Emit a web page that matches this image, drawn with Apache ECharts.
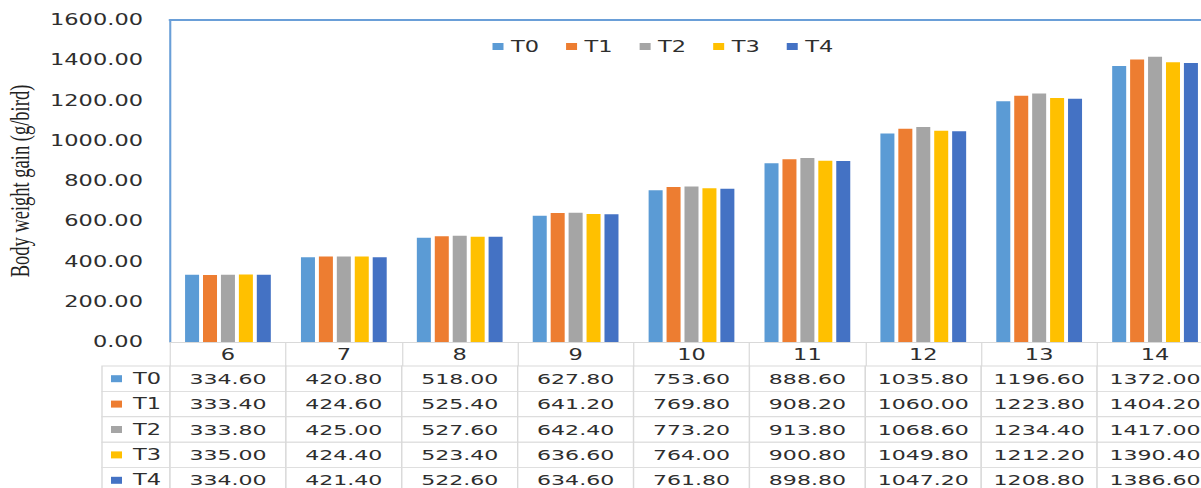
<!DOCTYPE html>
<html>
<head>
<meta charset="utf-8">
<script src="https://cdn.jsdelivr.net/npm/echarts@6/dist/echarts.min.js"></script>
<style>
html,body{margin:0;padding:0;background:#fff;overflow:hidden;width:1201px;height:488px;}
#chart{width:801px;height:488px;transform:scaleX(1.5);transform-origin:0 0;}
</style>
</head>
<body>
<div id="chart"></div>
<script>
const categories = ['6','7','8','9','10','11','12','13','14'];
const seriesNames = ['T0','T1','T2','T3','T4'];
const T0 = [334.60, 420.80, 518.00, 627.80, 753.60, 888.60, 1035.80, 1196.60, 1372.00];
const T1 = [333.40, 424.60, 525.40, 641.20, 769.80, 908.20, 1060.00, 1223.80, 1404.20];
const T2 = [333.80, 425.00, 527.60, 642.40, 773.20, 913.80, 1068.60, 1234.40, 1417.00];
const T3 = [335.00, 424.40, 523.40, 636.60, 764.00, 900.80, 1049.80, 1212.20, 1390.40];
const T4 = [334.00, 421.40, 522.60, 634.60, 761.80, 898.80, 1047.20, 1208.80, 1386.60];
const yTicks = [0, 200, 400, 600, 800, 1000, 1200, 1400, 1600];
const yTitle = 'Body weight gain (g/bird)';

const seriesValues = [T0, T1, T2, T3, T4];
const colors = ['#5B9BD5', '#ED7D31', '#A5A5A5', '#FFC000', '#4472C4'];
const SX = 1.5; // horizontal stretch of the page (the reference is stretched)
const FONT = '"DejaVu Sans", Verdana, sans-serif';
const TXT = '#2e2e2e';
const LINE = '#d9d9d9';
const BLUE = '#6A9FD8';

// table cells: [column, row]; column -1 is the legend column
const tableData = [];
for (let r = 0; r < seriesNames.length; r++) {
  for (let c = -1; c < categories.length; c++) tableData.push([c, r]);
}
const legendColMin = -0.587;

const chart = echarts.init(document.getElementById('chart'), null, { renderer: 'svg' });
const barSeries = seriesNames.map((n, i) => ({
  name: n,
  type: 'bar',
  xAxisIndex: 0,
  yAxisIndex: 0,
  data: seriesValues[i],
  itemStyle: { color: colors[i] },
  barGap: '28%',
  barCategoryGap: '26%'
}));

chart.setOption({
  animation: false,
  color: colors,
  legend: {
    data: seriesNames,
    left: 485 / SX,
    top: 34,
    itemWidth: 11 / SX,
    itemHeight: 7,
    itemGap: 18,
    icon: 'rect',
    textStyle: { fontFamily: FONT, fontSize: 15, color: TXT }
  },
  grid: [
    { left: 170 / SX, top: 20, width: 1043 / SX, height: 322, outerBoundsMode: 'none', containLabel: false },
    { left: 102 / SX, top: 366, width: 1111 / SX, height: 127, outerBoundsMode: 'none', containLabel: false }
  ],
  xAxis: [
    {
      type: 'category', gridIndex: 0, data: categories, position: 'bottom',
      axisLine: { lineStyle: { color: LINE, width: 1 } },
      axisTick: { show: true, length: 24, alignWithLabel: false, lineStyle: { color: LINE, width: 0.8 } },
      axisLabel: { margin: 5, fontFamily: FONT, fontSize: 15, color: TXT }
    },
    {
      type: 'category', gridIndex: 0, data: categories, position: 'top',
      axisLine: { lineStyle: { color: BLUE, width: 2 } },
      axisTick: { show: false }, axisLabel: { show: false }
    },
    {
      type: 'value', gridIndex: 1, min: legendColMin, max: categories.length,
      show: false
    }
  ],
  yAxis: [
    {
      type: 'value', gridIndex: 0, min: yTicks[0], max: yTicks[yTicks.length - 1],
      interval: yTicks[1] - yTicks[0],
      name: yTitle, nameLocation: 'middle', nameRotate: 90, nameGap: 87,
      nameTextStyle: {
        fontFamily: '"Liberation Serif", "Times New Roman", serif',
        fontSize: 18.5, color: '#222'
      },
      axisLine: { show: true, lineStyle: { color: BLUE, width: 1.4 } },
      axisTick: { show: false },
      splitLine: { show: false },
      axisLabel: {
        margin: 27 / SX, fontFamily: FONT, fontSize: 15, color: TXT,
        formatter: v => v.toFixed(2)
      }
    },
    {
      type: 'category', gridIndex: 1, data: seriesNames, inverse: true, show: false
    }
  ],
  series: barSeries.concat([{
    type: 'custom',
    xAxisIndex: 2,
    yAxisIndex: 1,
    data: tableData,
    silent: true,
    renderItem: function (params, api) {
      const c = api.value(0), r = api.value(1);
      const xa = c < 0 ? legendColMin : c;
      const xb = c < 0 ? 0 : c + 1;
      const p0 = api.coord([xa, r]);
      const p1 = api.coord([xb, r]);
      const h = api.size([0, 1])[1];
      const x = p0[0], y = p0[1] - h / 2, w = p1[0] - p0[0];
      const children = [{
        type: 'rect',
        shape: { x: x, y: y, width: w, height: h },
        style: { fill: '#fff', stroke: LINE, lineWidth: 0.9 }
      }];
      if (c < 0) {
        children.push({
          type: 'rect',
          shape: { x: x + 9 / SX, y: p0[1] - 3.5, width: 11 / SX, height: 7 },
          style: { fill: colors[r] }
        });
        children.push({
          type: 'text',
          style: {
            x: x + 31 / SX, y: p0[1], text: seriesNames[r],
            fontFamily: FONT, fontSize: 15, fill: TXT,
            align: 'left', verticalAlign: 'middle'
          }
        });
      } else {
        children.push({
          type: 'text',
          style: {
            x: x + w / 2, y: p0[1], text: seriesValues[r][c].toFixed(2),
            fontFamily: FONT, fontSize: 14.7, fill: TXT,
            align: 'center', verticalAlign: 'middle'
          }
        });
      }
      return { type: 'group', children: children };
    }
  }])
});
</script>
</body>
</html>
